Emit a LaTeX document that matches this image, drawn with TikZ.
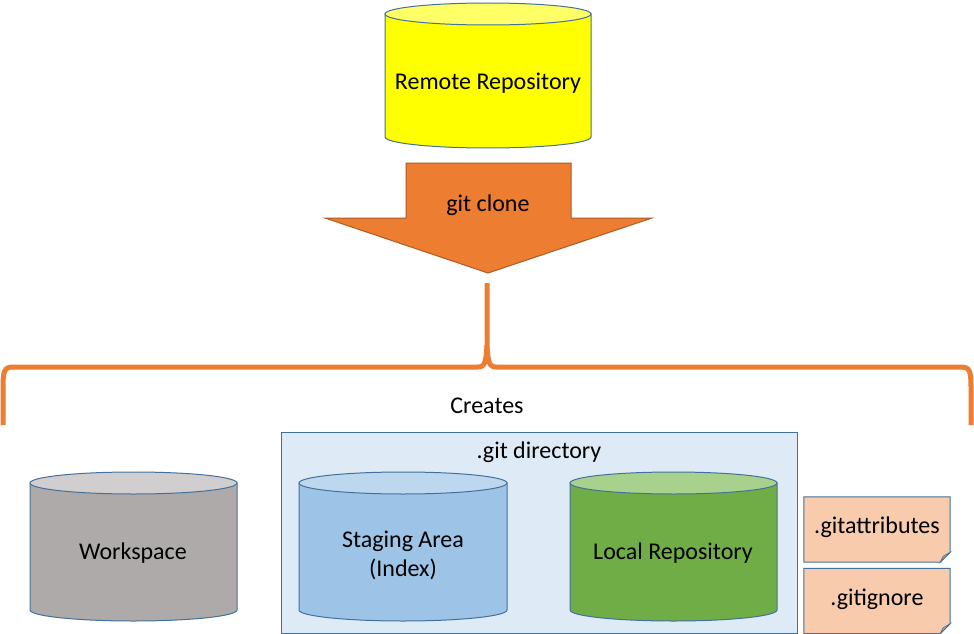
\documentclass[tikz,border=0pt]{standalone}
\usepackage{fontspec}
\setmainfont{Carlito}
\usetikzlibrary{positioning,backgrounds}
\definecolor{edgeblue}{HTML}{41719C}
\definecolor{cloneorange}{HTML}{ED7D31}
\definecolor{cloneedge}{HTML}{AE5A21}
\definecolor{rembody}{HTML}{FFFF00}
\definecolor{remtop}{HTML}{FFFF66}
\definecolor{wsbody}{HTML}{AEAAAA}
\definecolor{wstop}{HTML}{D0CECE}
\definecolor{stbody}{HTML}{9DC3E6}
\definecolor{sttop}{HTML}{BDD7EE}
\definecolor{lrbody}{HTML}{70AD47}
\definecolor{lrtop}{HTML}{A9D18E}
\definecolor{gitfill}{HTML}{DEEBF7}
\definecolor{notefill}{HTML}{F8CBAD}
\definecolor{foldfill}{HTML}{C6A591}

% drum: x left, x right, y of top ellipse, y of bottom ellipse, body colour, top colour
\newcommand{\drum}[6]{%
  \filldraw[edge, fill=#5] (#1,#3) -- (#1,#4)
    arc[start angle=180, end angle=0, x radius={(#2-#1)/2}, y radius=11] -- (#2,#3) -- cycle;
  \filldraw[edge, fill=#6] ({(#1+#2)/2},#3) ellipse[x radius={(#2-#1)/2}, y radius=11];
}

\begin{document}
\begin{tikzpicture}[x=1pt, y=-1pt, every node/.style={font=\fontsize{24}{29}\selectfont, align=center}]
  \tikzset{edge/.style={draw=edgeblue, line width=1pt},
           note/.style={minimum width=146, minimum height=65, inner sep=0pt}}
  \useasboundingbox (0,0) rectangle (974,634);

  % remote side
  \drum{385}{591}{14}{137}{rembody}{remtop}
  \node (remote) at (488,83) {Remote Repository};

  \filldraw[draw=cloneedge, line width=1pt, fill=cloneorange]
    (406,163) -- (571,163) -- (571,218) -- (652,218) -- (488,273) -- (325,218) -- (406,218) -- cycle;
  \node (clone) at (488,205) {git clone};

  % brace
  \draw[cloneorange, line width=5pt]
    (3,425) -- (3,390) .. controls (3,370) and (4,367) .. (14,367) -- (478,367)
    .. controls (485,367) and (486,362) .. (487,345) -- (487,283);
  \draw[cloneorange, line width=5pt]
    (971,425) -- (971,390) .. controls (971,370) and (970,367) .. (960,367) -- (496,367)
    .. controls (489,367) and (488,362) .. (487,345);
  \node (creates) at (487,406) {Creates};

  % local side
  \filldraw[edge, fill=gitfill] (281,432) rectangle (797,633);
  \node (gitdir) at (539,452) {.git directory};

  \drum{30}{237}{483}{610}{wsbody}{wstop}
  \node (work) at (133,553) {Workspace};
  \drum{299}{507}{483}{610}{stbody}{sttop}
  \node (stage) at (403,555) {Staging Area\\(Index)};
  \drum{570}{777}{483}{610}{lrbody}{lrtop}
  \node (local) at (673,553) {Local Repository};

  \node (attrs) [note] at (877,529.5) {\raisebox{8pt}{.gitattributes}};
  \node (ignore) [note] at (877,601) {\raisebox{8pt}{.gitignore}};
  \begin{pgfonlayer}{background}
    \foreach \n in {attrs,ignore} {
      \filldraw[edge, fill=notefill] (\n.north west) -- (\n.north east) -- ([yshift=10pt]\n.south east)
        -- ([xshift=-10pt]\n.south east) -- (\n.south west) -- cycle;
      \filldraw[edge, fill=foldfill, line width=0.6pt] ([yshift=10pt]\n.south east)
        -- ([xshift=-10pt]\n.south east) -- ([xshift=-7pt, yshift=6pt]\n.south east) -- cycle;
    }
  \end{pgfonlayer}
\end{tikzpicture}
\end{document}
